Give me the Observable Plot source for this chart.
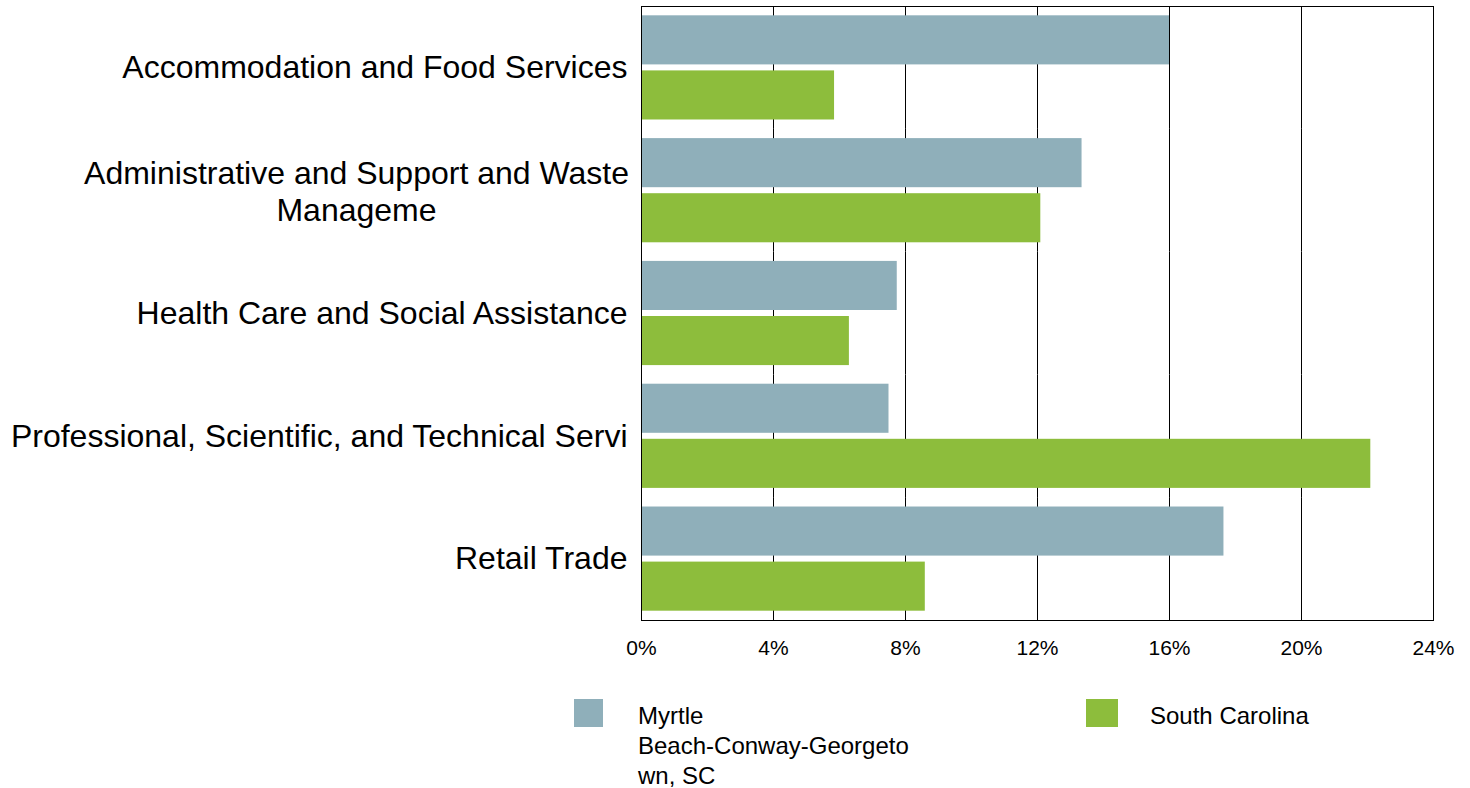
<!DOCTYPE html>
<html>
<head>
<meta charset="utf-8">
<script src="https://cdn.jsdelivr.net/npm/d3@7"></script>
<script src="https://cdn.jsdelivr.net/npm/@observablehq/plot@0.6"></script>
<style>
  html, body { margin: 0; padding: 0; background: #fff; }
  body { width: 1470px; height: 788px; overflow: hidden; font-family: "Liberation Sans", Arial, sans-serif; }
  #chart svg { display: block; }
  #legend { position: relative; height: 116px; color: #000; font-size: 24px; line-height: 30px; }
  .sw { position: absolute; width: 29px; height: 28px; }
  .lt { position: absolute; }
</style>
</head>
<body>
<div id="chart"></div>
<div id="legend"></div>
<script>
const categories = [
  "Accommodation and Food Services",
  "Administrative and Support and Waste Manageme",
  "Health Care and Social Assistance",
  "Professional, Scientific, and Technical Servi",
  "Retail Trade"
];
const seriesNames = ["Myrtle Beach-Conway-Georgetown, SC", "South Carolina"];
const myrtleValues = [16.0, 13.35, 7.75, 7.5, 17.65];
const southCarolinaValues = [5.85, 12.1, 6.3, 22.1, 8.6];
const xTicks = [0, 4, 8, 12, 16, 20, 24];
const colors = ["#8FAFBA", "#8DBD3C"];

const rows = [];
categories.forEach((c, i) => {
  rows.push({category: c, series: seriesNames[0], value: myrtleValues[i]});
  rows.push({category: c, series: seriesNames[1], value: southCarolinaValues[i]});
});

const wrapped = categories[1];
const others = categories.filter(c => c !== wrapped);

const chart = Plot.plot({
  width: 1470,
  height: 672,
  marginLeft: 641,
  marginRight: 37,
  marginTop: 6,
  marginBottom: 52,
  style: {fontFamily: "'Liberation Sans', Arial, sans-serif", background: "white", color: "black"},
  x: {domain: [0, 24], axis: null},
  fy: {domain: categories, padding: 0, round: false, axis: null},
  y: {domain: seriesNames, paddingInner: 0.109, paddingOuter: 0.169, round: false, axis: null},
  color: {domain: seriesNames, range: colors},
  marks: [
    Plot.gridX(xTicks, {stroke: "black", strokeOpacity: 1, strokeWidth: 1}),
    Plot.barX(rows, {x: "value", y: "series", fy: "category", fill: "series"}),
    Plot.frame({facet: "super", stroke: "black", strokeWidth: 1}),
    Plot.axisX({ticks: xTicks, tickFormat: d => d + "%", tickSize: 0, tickPadding: 20, fontSize: 21, anchor: "bottom", label: null}),
    Plot.axisFy({anchor: "left", ticks: others, tickSize: 0, tickPadding: 14, fontSize: 32, label: null}),
    Plot.axisFy({anchor: "left", ticks: [wrapped], tickSize: 0, tickPadding: 285, fontSize: 32, label: null, textAnchor: "middle", lineHeight: 1.15,
      tickFormat: d => "Administrative and Support and Waste\nManageme"})
  ]
});
document.getElementById("chart").appendChild(chart);

const legend = document.getElementById("legend");
legend.innerHTML = `
  <div class="sw" style="left:574px;top:27px;background:${colors[0]}"></div>
  <div class="lt" style="left:638px;top:29px">Myrtle<br>Beach-Conway-Georgeto<br>wn, SC</div>
  <div class="sw" style="left:1086px;top:27px;width:32px;background:${colors[1]}"></div>
  <div class="lt" style="left:1150px;top:29px">${seriesNames[1]}</div>
`;
</script>
</body>
</html>
